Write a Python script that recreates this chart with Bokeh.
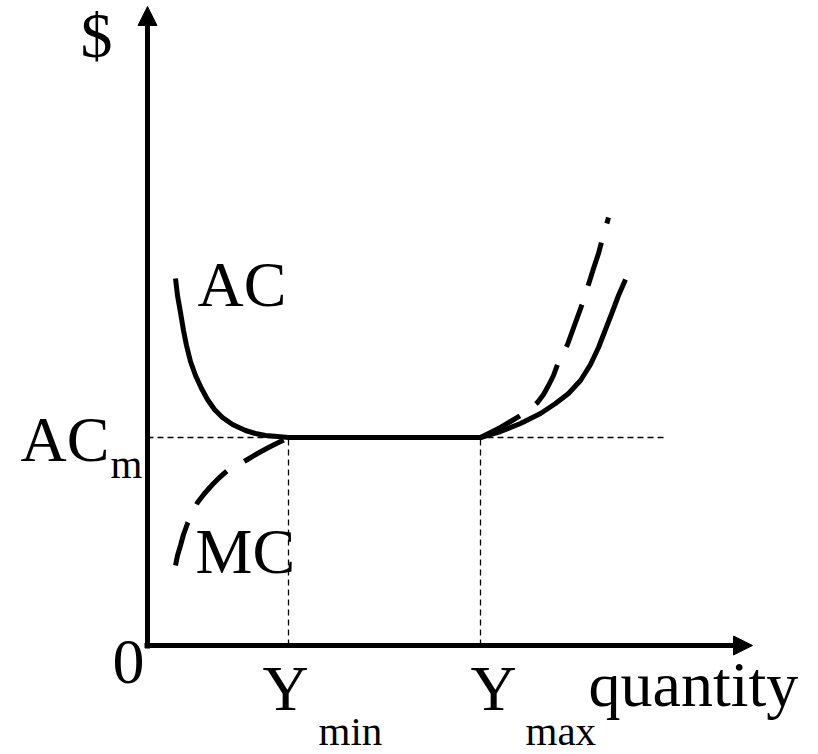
from bokeh.plotting import figure
from bokeh.models import Range1d, Arrow, NormalHead
from bokeh.core.properties import value
from bokeh.embed import file_html
from bokeh.resources import INLINE

# Cost levels and output bounds (quantity on x, $ on y)
y_min = 141
y_max = 333
ac_m = 208
x_axis_end = 605
y_axis_end = 639
guide_end = 518

# Average cost: falling branch, flat bottom, rising branch
ac_x = [28, 30, 33, 36, 39, 43, 48, 54, 60, 67, 75, 85, 98, 108, 118, 130, 141,
        333, 353, 373, 393, 408, 421, 433, 443, 451, 458, 465, 471, 478]
ac_y = [367, 350, 333, 315, 300, 284, 270, 257, 246, 236, 228, 221, 215, 212, 210, 209, 208,
        208, 214, 222, 232, 242, 252, 265, 281, 298, 316, 334, 350, 366]

# Marginal cost: rising to meet AC at Y_min ...
mc_left_x = [28, 30, 33, 36, 40, 45, 50, 57, 65, 72, 80, 90, 100, 110, 121, 131, 141]
mc_left_y = [80, 90, 100, 111, 122, 133, 143, 152, 161, 168, 175, 180, 186, 192, 198, 203, 208]
# ... and rising above AC beyond Y_max
mc_right_x = [333, 343, 353, 363, 373, 382, 390, 396, 401, 406, 410, 415, 420, 424, 428,
              432, 436, 441, 446, 451, 455, 458, 461]
mc_right_y = [208, 213, 218, 224, 230, 236, 243, 251, 260, 270, 281, 291, 301, 312, 323,
              334, 345, 361, 377, 392, 407, 417, 428]

p = figure(width=818, height=754, x_range=Range1d(-147, 671), y_range=Range1d(-109, 645),
           output_backend="svg", toolbar_location=None, min_border=0)
p.axis.visible = False
p.grid.visible = False
p.outline_line_color = None
p.background_fill_color = "white"

# Thin dashed guides
p.line([0, guide_end], [ac_m, ac_m], line_color="black", line_width=1.3, line_dash="6 4")
p.line([y_min, y_min], [0, ac_m], line_color="black", line_width=1.3, line_dash="6 4")
p.line([y_max, y_max], [0, ac_m], line_color="black", line_width=1.3, line_dash="6 4")

# Axes with arrow heads
p.add_layout(Arrow(end=NormalHead(size=19, fill_color="black", line_color="black"),
                   x_start=0, y_start=-3, x_end=0, y_end=y_axis_end,
                   line_width=5, line_color="black"))
p.add_layout(Arrow(end=NormalHead(size=19, fill_color="black", line_color="black"),
                   x_start=-3, y_start=0, x_end=x_axis_end, y_end=0,
                   line_width=5, line_color="black"))

# Curves
p.line(mc_left_x, mc_left_y, line_color="black", line_width=5, line_dash="45 20", line_cap="butt")
p.line(mc_right_x, mc_right_y, line_color="black", line_width=5, line_dash="45 20", line_cap="butt")
p.line(ac_x, ac_y, line_color="black", line_width=5, line_join="round")

font = value("'Liberation Serif', 'DejaVu Serif', 'Times New Roman', serif")

# Main labels
p.text(x=[-67, -127, -35, 115, 323, 441, 50, 48],
       y=[610, 206, -16, -43, -43, -39, 361, 94],
       text=["$", "AC", "0", "Y", "Y", "quantity", "AC", "MC"],
       text_font=font, text_font_size="64px", text_color="black",
       text_align="left", text_baseline="alphabetic")

# Subscripts
p.text(x=[-37, 171, 378], y=[182, -85, -85], text=["m", "min", "max"],
       text_font=font, text_font_size="41px", text_color="black",
       text_align="left", text_baseline="alphabetic")

open("out.html", "w").write(file_html(p, INLINE))
